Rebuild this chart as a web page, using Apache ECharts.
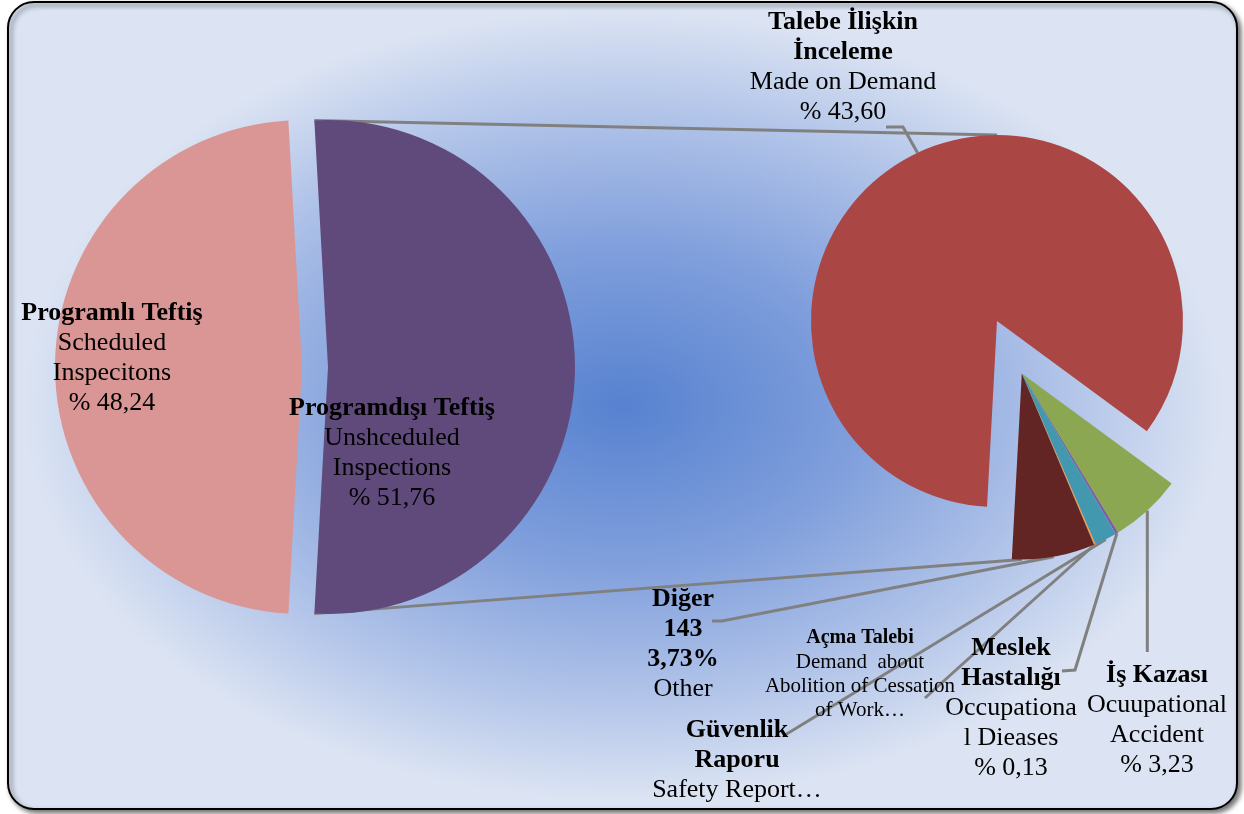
<!DOCTYPE html>
<html>
<head>
<meta charset="utf-8">
<title>Teftiş</title>
<script src="https://cdn.jsdelivr.net/npm/echarts@6/dist/echarts.min.js"></script>
<style>
  html, body { margin: 0; padding: 0; background: #fff; }
  #main { width: 1244px; height: 814px; }
</style>
</head>
<body>
<div id="main"></div>
<script>
// first pie
var mainNames = ['Programdışı Teftiş', 'Programlı Teftiş'];
var mainSub = [['Unshceduled', 'Inspections'], ['Scheduled', 'Inspecitons']];
var mainValues = [51.76, 48.24];
var mainColors = ['#604A7B', '#D99694'];

// second pie (split of Programdışı), clockwise from the green slice
var subNames = ['İş Kazası', 'Meslek Hastalığı', 'Güvenlik Raporu', 'Açma Talebi', 'Diğer', 'Talebe İlişkin İnceleme'];
var subValues = [3.23, 0.13, 1.00, 0.07, 3.73, 43.60];
var subColors = ['#8BA752', '#7D5FA0', '#4198AF', '#F79646', '#632523', '#AA4644'];
var digerCount = 143;

function pct(v) { return v.toFixed(2).replace('.', ','); }

var subLabels = [
  '{b|İş Kazası}\n{n|Ocuupational}\n{n|Accident}\n{n|% ' + pct(subValues[0]) + '}',
  '{b|Meslek}\n{b|Hastalığı}\n{n|Occupationa}\n{n|l Dieases}\n{n|% ' + pct(subValues[1]) + '}',
  '{b|Güvenlik}\n{b|Raporu}\n{n|Safety Report…}',
  '{sb|Açma Talebi}\n{sn|Demand  about}\n{sn|Abolition of Cessation}\n{sn|of Work…}',
  '{b|Diğer}\n{b|' + digerCount + '}\n{b|' + pct(subValues[4]) + '%}\n{n|Other}',
  '{b|Talebe İlişkin}\n{b|İnceleme}\n{n|Made on Demand}\n{n|% ' + pct(subValues[5]) + '}'
];

var rich = {
  b: { fontFamily: 'Liberation Serif', fontWeight: 'bold', fontSize: 26, lineHeight: 30, color: '#000' },
  n: { fontFamily: 'Liberation Serif', fontSize: 26, lineHeight: 30, color: '#000' },
  sb: { fontFamily: 'Liberation Serif', fontWeight: 'bold', fontSize: 20, lineHeight: 24, color: '#000' },
  sn: { fontFamily: 'Liberation Serif', fontSize: 21, lineHeight: 24, color: '#000' }
};

// geometry
var mainCenter = [302, 367], mainR = 247, mainOffset = 26;
var subCenter = [997, 321], subR = 186, subExplode = 58;
var subTotal = subValues.reduce(function (a, b) { return a + b; }, 0);
var smallTotal = subTotal - subValues[5];
var gapMid = -64.7; // degrees, where the small slices sit
var subStart = gapMid + smallTotal / subTotal * 360 / 2;
var mainStart = mainValues[0] / (mainValues[0] + mainValues[1]) * 360 / 2;
var rad = gapMid * Math.PI / 180;
var smallCenter = [subCenter[0] + subExplode * Math.cos(rad), subCenter[1] - subExplode * Math.sin(rad)];
var splitCenter = [mainCenter[0] + mainOffset, mainCenter[1]];

// label placements (centre of text, leader bend points)
var subLabelPos = [
  { x: 1157, y: 720, line: function (p) { return [p, [p[0], 652], [p[0], 652]]; } },
  { x: 1011, y: 708, line: function (p) { return [p, [1075, 670], [1062, 671]]; } },
  { x: 737, y: 760, line: function (p) { return [p, [785, 735], [785, 735]]; } },
  { x: 860, y: 674, line: function (p) { return [p, [925, 698], [925, 698]]; } },
  { x: 683, y: 644, line: function (p) { return [p, [722, 621], [712, 621]]; } },
  { x: 843, y: 67, line: function (p) { return [p, [903, 127], [886, 127]]; } }
];
var mainLabelPos = [{ x: 392, y: 453 }, { x: 112, y: 358 }];

function mainData(idx) {
  return mainValues.map(function (v, i) {
    var visible = i === idx;
    return {
      name: mainNames[i],
      value: v,
      itemStyle: { color: visible ? mainColors[i] : 'transparent' },
      label: {
        show: visible,
        formatter: '{b|' + mainNames[i] + '}\n{n|' + mainSub[i][0] + '}\n{n|' + mainSub[i][1] + '}\n{n|% ' + pct(v) + '}'
      }
    };
  });
}

function subData(showBig) {
  return subValues.map(function (v, i) {
    var visible = showBig ? i === 5 : i !== 5;
    return {
      name: subNames[i],
      value: v,
      itemStyle: { color: visible ? subColors[i] : 'transparent' },
      label: { show: visible, formatter: subLabels[i] },
      labelLine: { show: visible }
    };
  });
}

function mainLayout(params) {
  var p = mainLabelPos[params.dataIndex];
  return { x: p.x, y: p.y, align: 'center', verticalAlign: 'middle' };
}

function subLayout(params) {
  var pos = subLabelPos[params.dataIndex];
  var start = params.labelLinePoints ? params.labelLinePoints[0] : null;
  var out = { x: pos.x, y: pos.y, align: 'center', verticalAlign: 'middle' };
  if (start) out.labelLinePoints = pos.line(start);
  return out;
}

var myChart = echarts.init(document.getElementById('main'));

// connector lines from split edges of the first pie to the second pie
var a = mainStart * Math.PI / 180;
var topA = [splitCenter[0] + mainR * Math.cos(a), splitCenter[1] - mainR * Math.sin(a)];
var botA = [splitCenter[0] + mainR * Math.cos(a), splitCenter[1] + mainR * Math.sin(a)];
var topB = [subCenter[0], subCenter[1] - subR];
var botB = [smallCenter[0], smallCenter[1] + subR];

var pieBase = {
  type: 'pie',
  z: 3,
  avoidLabelOverlap: false,
  emphasis: { disabled: true },
  itemStyle: { borderWidth: 0 }
};

var opt = {
  backgroundColor: '#fff',
  animation: false,
  graphic: [
    {
      type: 'rect', z: -2, silent: true,
      shape: { x: 8, y: 2, width: 1229, height: 807, r: 26 },
      style: {
        fill: '#DCE4F3', stroke: '#000', lineWidth: 2,
        shadowBlur: 5, shadowOffsetX: 3, shadowOffsetY: 3, shadowColor: 'rgba(0,0,0,0.55)'
      }
    },
    {
      type: 'rect', z: -1, silent: true,
      x: 623, y: 405, scaleX: 1.52, scaleY: 1,
      shape: { x: -395, y: -395, width: 790, height: 790, r: 18 },
      style: {
        fill: new echarts.graphic.RadialGradient(0.5, 0.5, 0.5, [
          { offset: 0, color: '#5782D0' },
          { offset: 0.4, color: '#809FDC' },
          { offset: 0.75, color: '#B3C5E9' },
          { offset: 1, color: '#DCE4F3' }
        ])
      }
    },
    {
      type: 'polyline', z: 1, silent: true,
      shape: { points: [topA, topB] },
      style: { stroke: '#808080', lineWidth: 3, fill: null }
    },
    {
      type: 'polyline', z: 1, silent: true,
      shape: { points: [botA, botB] },
      style: { stroke: '#808080', lineWidth: 3, fill: null }
    }
  ],
  series: [
    Object.assign({}, pieBase, {
      center: splitCenter,
      radius: mainR,
      startAngle: mainStart,
      label: { show: true, position: 'inside', rich: rich },
      labelLine: { show: false },
      labelLayout: mainLayout,
      data: mainData(0)
    }),
    Object.assign({}, pieBase, {
      center: mainCenter,
      radius: mainR,
      startAngle: mainStart,
      label: { show: true, position: 'inside', rich: rich },
      labelLine: { show: false },
      labelLayout: mainLayout,
      data: mainData(1)
    }),
    Object.assign({}, pieBase, {
      center: subCenter,
      radius: subR,
      startAngle: subStart,
      label: { show: true, position: 'outside', rich: rich },
      labelLine: { show: true, lineStyle: { color: '#808080', width: 3 } },
      labelLayout: subLayout,
      data: subData(true)
    }),
    Object.assign({}, pieBase, {
      center: smallCenter,
      radius: subR,
      startAngle: subStart,
      label: { show: true, position: 'outside', rich: rich },
      labelLine: { show: true, lineStyle: { color: '#808080', width: 3 } },
      labelLayout: subLayout,
      data: subData(false)
    })
  ]
};
myChart.setOption(opt);
</script>
</body>
</html>
